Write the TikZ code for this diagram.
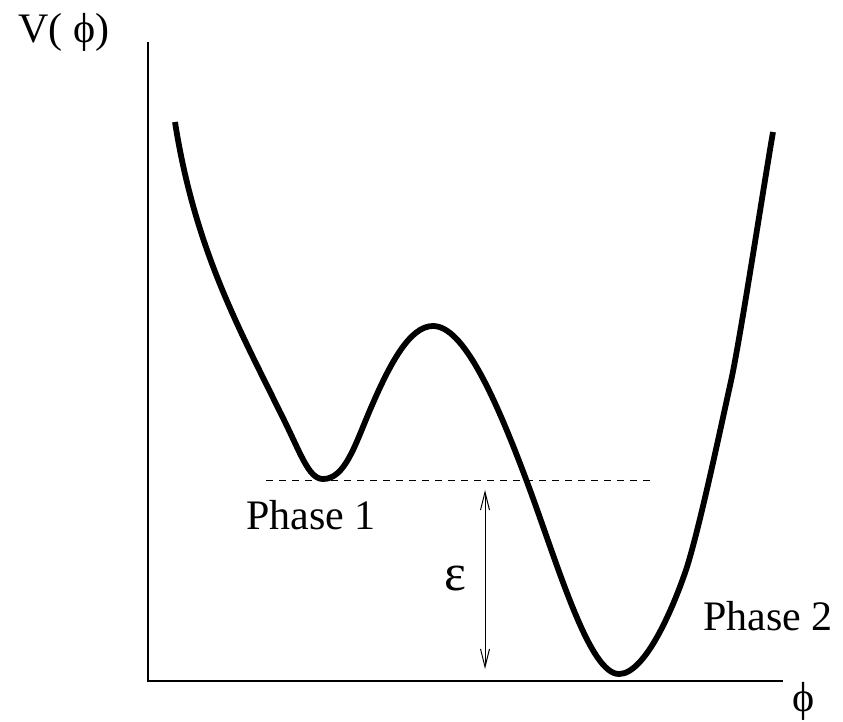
\documentclass[tikz,border=0pt]{standalone}
\usepackage{fontspec}
\setmainfont{Liberation Serif}
\usetikzlibrary{arrows.meta}
\tikzset{
  lbl/.style={inner sep=0pt, font=\fontsize{42}{48}\selectfont},
  axis/.style={line width=2pt},
  curve/.style={line width=5.8pt, line join=round, line cap=butt},
  level/.style={line width=1pt, dash pattern=on 7pt off 6pt},
  gap/.style={line width=1pt, {Straight Barb[length=18pt,width=9pt]}-{Straight Barb[length=18pt,width=9pt]}}
}
\begin{document}
\begin{tikzpicture}[x=1pt,y=-1pt]
\useasboundingbox (0,0) rectangle (843,721);
% axes
\coordinate (o) at (148,681);
\coordinate (ytop) at (148,42);
\coordinate (xend) at (783,681);
\draw[axis] (ytop) -- (o) -- (xend);
% labels
\node[lbl, anchor=base west] (vlab) at (18,42) {V( \symbol{"03D5})};
\node[lbl, anchor=base] (xlab) at (804,711) {\symbol{"03D5}};
\node[lbl, anchor=base west] (p1) at (246,529) {Phase 1};
\node[lbl, anchor=base west] (p2) at (703,630) {Phase 2};
\node[lbl, font=\fontsize{52}{56}\selectfont] (eps) at (455,578) {\symbol{"03B5}};
% level line
\coordinate (l1) at (266,480);
\coordinate (l2) at (655,480);
\draw[level] (l1) -- (l2);
% epsilon arrow
\coordinate (a1) at (485,490);
\coordinate (a2) at (485,669);
\draw[gap] (a1) -- (a2);
% potential curve
\coordinate (s0) at (175,122);
\coordinate (s1) at (280,412);
\coordinate (m1) at (323,479);
\coordinate (s2) at (370,410);
\coordinate (mx) at (433,326);
\coordinate (s3) at (530,490);
\coordinate (m2) at (619,674);
\coordinate (s4) at (687,567);
\coordinate (s5) at (731,381);
\coordinate (s6) at (773,132);
\draw[curve] (s0)
  .. controls (195,250) and (240,330) .. (s1)
  .. controls (300,451) and (308,479) .. (m1)
  .. controls (345,479) and (355,445) .. (s2)
  .. controls (390,363) and (410,326) .. (mx)
  .. controls (463,326) and (495,395) .. (s3)
  .. controls (560,572) and (590,674) .. (m2)
  .. controls (645,674) and (673,609) .. (s4)
  .. controls (700,525) and (718,440) .. (s5)
  .. controls (740,340) and (763,190) .. (s6);
\end{tikzpicture}
\end{document}
